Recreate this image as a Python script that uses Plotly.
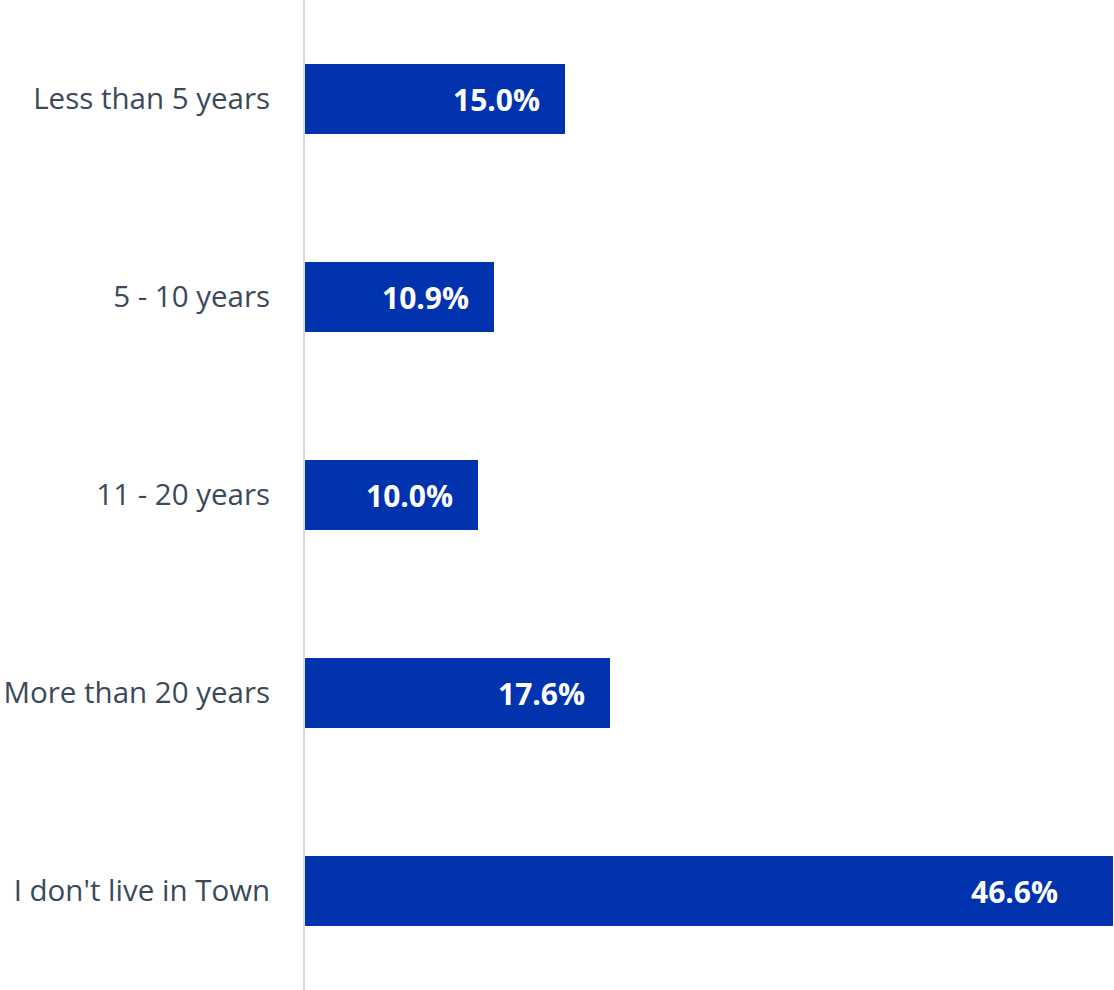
import plotly.graph_objects as go

categories = ["Less than 5 years", "5 - 10 years", "11 - 20 years",
              "More than 20 years", "I don't live in Town"]
values = [15.0, 10.9, 10.0, 17.6, 46.6]

BAR_COLOR = "#0033AD"
LABEL_COLOR = "#3B4A5A"

fig = go.Figure(go.Bar(
    y=categories,
    x=values,
    orientation="h",
    marker=dict(color=BAR_COLOR, line=dict(width=0)),
    width=0.355,
    hoverinfo="skip",
))

# value labels placed inside the right end of each bar;
# the longest bar runs to the plot edge, so its label sits further in
longest = max(values)
for cat, val in zip(categories, values):
    fig.add_annotation(
        x=val, y=cat, xref="x", yref="y",
        text=f"<b>{val:.1f}%</b>",
        showarrow=False, xanchor="right", yanchor="middle",
        xshift=-53 if val == longest else -23,
        font=dict(family="Open Sans", size=30, color="white"),
    )

fig.update_layout(
    width=1114, height=990,
    margin=dict(l=305, r=0, t=0, b=0),
    paper_bgcolor="white", plot_bgcolor="white",
    showlegend=False,
    bargap=0,
)
fig.update_xaxes(range=[0, 46.65], visible=False, fixedrange=True)
fig.update_yaxes(
    autorange="reversed",
    showline=True, linecolor="#D9D9D9", linewidth=2,
    showgrid=False, zeroline=False,
    ticks="", ticklabelstandoff=27,
    tickfont=dict(family="Open Sans", size=29.5, color=LABEL_COLOR),
    fixedrange=True,
)

fig.write_html("out.html")
